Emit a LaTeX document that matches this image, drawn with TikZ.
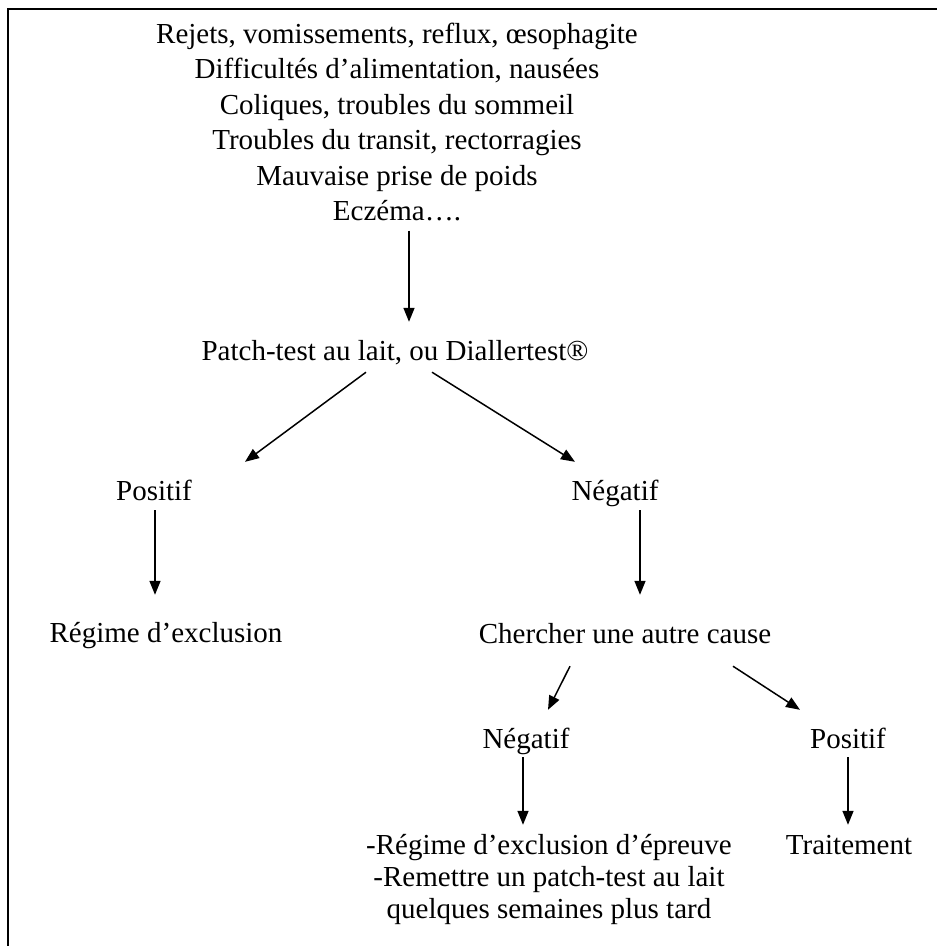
\documentclass[tikz,border=0pt]{standalone}
\usepackage{fontspec}
\setmainfont{Liberation Serif}
\usetikzlibrary{arrows.meta}

\begin{document}
\begin{tikzpicture}[x=1pt,y=-1pt,
        font=\fontsize{29}{35}\selectfont,
        lbl/.style={inner sep=0pt, anchor=base, text height=20pt, text depth=6pt},
        fleche/.style={-{Triangle[length=14pt,width=11pt]}, line width=1.5pt}]
    \useasboundingbox (0,0) rectangle (937,946);
    % cadre
    \draw[line width=2.2pt] (937,9) -- (8,9) -- (8,946);

    % symptomes
    \foreach \t [count=\i] in
        {{Rejets, vomissements, reflux, œsophagite}, {Difficultés d’alimentation, nausées},
         {Coliques, troubles du sommeil}, {Troubles du transit, rectorragies},
         {Mauvaise prise de poids}, {Eczéma….}}
        {
            \node[lbl] (l\i) at (397,{43+35.5*(\i-1)}) {\t};
        }

    \node[lbl] (patch) at (395,360) {Patch-test au lait, ou Diallertest®};
    \node[lbl] (pos1) at (154,500) {Positif};
    \node[lbl] (neg1) at (615,500) {Négatif};
    \node[lbl] (excl) at (166,642) {Régime d’exclusion};
    \node[lbl] (cause) at (625,643) {Chercher une autre cause};
    \node[lbl] (neg2) at (526,748) {Négatif};
    \node[lbl] (pos2) at (848,748) {Positif};
    \node[lbl] (trait) at (849,854) {Traitement};
    \foreach \t/\y [count=\i] in
        {-Régime d’exclusion d’épreuve/854, -Remettre un patch-test au lait/886,
         quelques semaines plus tard/918}
        {
            \node[lbl] (b\i) at (549,\y) {\t};
        }

    \draw[fleche] ([xshift=12pt,yshift=-4pt]l6.south) -- ([xshift=14pt,yshift=18pt]patch.north);
    \draw[fleche] ([xshift=-29pt,yshift=-6pt]patch.south) -- ([xshift=91pt,yshift=18pt]pos1.north);
    \draw[fleche] ([xshift=37pt,yshift=-6pt]patch.south) -- ([xshift=-40pt,yshift=18pt]neg1.north);
    \draw[fleche] ([xshift=1pt,yshift=-4pt]pos1.south) -- ([xshift=-11pt,yshift=27pt]excl.north);
    \draw[fleche] ([xshift=25pt,yshift=-4pt]neg1.south) -- ([xshift=15pt,yshift=28pt]cause.north);
    \draw[fleche] ([xshift=-55pt,yshift=-17pt]cause.south) -- ([xshift=22pt,yshift=18pt]neg2.north);
    \draw[fleche] ([xshift=108pt,yshift=-17pt]cause.south) -- ([xshift=-48pt,yshift=18pt]pos2.north);
    \draw[fleche] ([xshift=-3pt,yshift=-3pt]neg2.south) -- ([xshift=-26pt,yshift=9pt]b1.north);
    \draw[fleche] ([yshift=-3pt]pos2.south) -- ([xshift=-1pt,yshift=9pt]trait.north);

\end{tikzpicture}
\end{document}
